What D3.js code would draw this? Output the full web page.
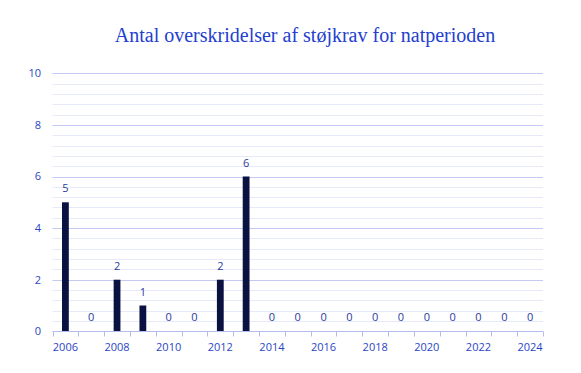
<!DOCTYPE html>
<html>
<head>
<meta charset="utf-8">
<script src="https://cdn.jsdelivr.net/npm/d3@7"></script>
<style>
  body { margin: 0; background: #fff; }
  svg text { font-family: "Open Sans", sans-serif; }
</style>
</head>
<body>
<svg width="581" height="373"></svg>
<script>
// data
var years = ["2006","2007","2008","2009","2010","2011","2012","2013","2014","2015",
             "2016","2017","2018","2019","2020","2021","2022","2023","2024"];
var counts = [5,0,2,1,0,0,2,6,0,0,0,0,0,0,0,0,0,0,0];
var yTicks = [0,2,4,6,8,10];

var svg = d3.select("svg");
var plotLeft = 52.5, plotRight = 543, plotTop = 73.3, plotBottom = 331.3;

var x = d3.scaleBand().domain(years).range([plotLeft, plotRight]);
var y = d3.scaleLinear().domain([0, 10]).range([plotBottom, plotTop]);

// title
svg.append("text")
  .attr("x", 305).attr("y", 42)
  .attr("text-anchor", "middle")
  .style("font-family", "'Liberation Serif', serif")
  .style("font-size", "20px")
  .attr("fill", "#2340cf")
  .text("Antal overskridelser af støjkrav for natperioden");

// minor grid
var minor = d3.range(0, 10.01, 0.4).filter(v => Math.abs(v / 2 - Math.round(v / 2)) > 0.01);
svg.append("g").selectAll("line").data(minor).enter().append("line")
  .attr("x1", plotLeft).attr("x2", plotRight)
  .attr("y1", d => Math.round(y(d)) + 0.5).attr("y2", d => Math.round(y(d)) + 0.5)
  .attr("stroke", "#e6e9f9").attr("stroke-width", 1);

// major grid
svg.append("g").selectAll("line").data(yTicks.filter(d => d > 0)).enter().append("line")
  .attr("x1", plotLeft).attr("x2", plotRight)
  .attr("y1", d => Math.round(y(d)) + 0.5).attr("y2", d => Math.round(y(d)) + 0.5)
  .attr("stroke", "#c3c9f0").attr("stroke-width", 1);

// y labels
svg.append("g").selectAll("text").data(yTicks).enter().append("text")
  .attr("x", 41).attr("y", d => y(d))
  .attr("dy", "0.35em")
  .attr("text-anchor", "end")
  .style("font-size", "11px")
  .attr("fill", "#2a45c6")
  .text(d => d);

// bars
var bw = 6.8;
svg.append("g").selectAll("rect").data(counts).enter().append("rect")
  .attr("x", (d, i) => x(years[i]) + x.bandwidth() / 2 - bw / 2)
  .attr("width", bw)
  .attr("y", d => y(d))
  .attr("height", d => plotBottom - y(d))
  .attr("fill", "#0a1242");

// value labels
svg.append("g").selectAll("text").data(counts).enter().append("text")
  .attr("x", (d, i) => x(years[i]) + x.bandwidth() / 2)
  .attr("y", d => y(d) - 10)
  .attr("text-anchor", "middle")
  .style("font-size", "11px")
  .attr("fill", "#2a3a9e")
  .text(d => d);

// x axis
var xAxis = svg.append("g").attr("transform", "translate(0," + (Math.round(plotBottom) + 0.5) + ")");
xAxis.append("line").attr("x1", plotLeft).attr("x2", plotRight)
  .attr("stroke", "#b4bcee");
xAxis.selectAll("line.tk").data(d3.range(years.length + 1)).enter().append("line")
  .attr("class", "tk")
  .attr("x1", i => Math.round(plotLeft + i * x.step()) + 0.5)
  .attr("x2", i => Math.round(plotLeft + i * x.step()) + 0.5)
  .attr("y1", 0).attr("y2", 5)
  .attr("stroke", "#b4bcee");
xAxis.selectAll("text").data(years.filter((d, i) => i % 2 === 0)).enter().append("text")
  .attr("x", d => x(d) + x.bandwidth() / 2)
  .attr("y", 19)
  .attr("text-anchor", "middle")
  .style("font-size", "11px")
  .attr("fill", "#2a45c6")
  .text(d => d);
</script>
</body>
</html>
